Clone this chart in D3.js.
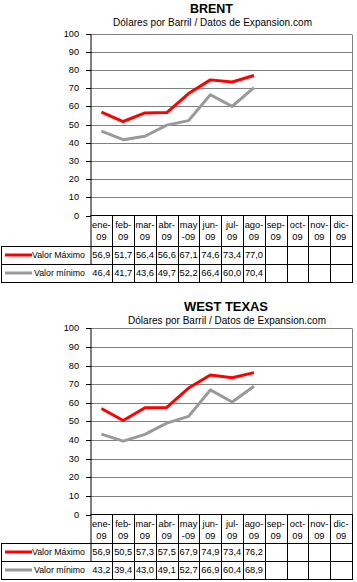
<!DOCTYPE html>
<html><head><meta charset="utf-8">
<script src="https://cdn.jsdelivr.net/npm/d3@7"></script>
<style>
html,body{margin:0;padding:0;background:#fff;}
svg{display:block;font-family:"Liberation Sans",Arial,sans-serif;}
</style></head>
<body>
<svg id="c" width="357" height="582"></svg>
<script>
const categories = ["ene-\n09","feb-\n09","mar-\n09","abr-\n09","may\n-09","jun-\n09","jul-\n09","ago-\n09","sep-\n09","oct-\n09","nov-\n09","dic-\n09"];
const yTicks = [0,10,20,30,40,50,60,70,80,90,100];
const seriesNames = ["Valor Máximo","Valor mínimo"];
const seriesColors = ["#ff0000","#999999"];
const brentMax = [56.9,51.7,56.4,56.6,67.1,74.6,73.4,77.0];
const brentMin = [46.4,41.7,43.6,49.7,52.2,66.4,60.0,70.4];
const wtiMax = [56.9,50.5,57.3,57.5,67.9,74.9,73.4,76.2];
const wtiMin = [43.2,39.4,43.0,49.1,52.7,66.9,60.4,68.9];
const subtitle = "Dólares por Barril / Datos de Expansion.com";

const svg = d3.select("#c");
const fmt = v => v.toFixed(1).replace(".", ",");

function drawChart(o) {
  const g = svg.append("g");
  const x = d3.scaleBand().domain(d3.range(categories.length)).range([o.left, o.right]);
  const y = d3.scaleLinear().domain([0,100]).range([o.bottom, o.top]);

  g.append("text").attr("x", o.titleX).attr("y", o.titleY).attr("text-anchor","middle")
    .attr("font-size", 13).attr("font-weight","bold").attr("textLength", o.titleW)
    .attr("lengthAdjust","spacingAndGlyphs").text(o.title);
  g.append("text").attr("x", o.subX).attr("y", o.subY).attr("text-anchor","middle")
    .attr("font-size", 10).attr("textLength", o.subW).attr("lengthAdjust","spacing").text(subtitle);

  g.selectAll(".grid").data(yTicks.filter(t => t > 0)).join("line")
    .attr("x1", o.left).attr("x2", o.right)
    .attr("y1", d => Math.round(y(d)) + 0.5).attr("y2", d => Math.round(y(d)) + 0.5)
    .attr("stroke", "#808080").attr("stroke-width", 1);
  g.append("line").attr("x1", o.right + 0.5).attr("x2", o.right + 0.5)
    .attr("y1", Math.round(y(100)) + 0.5).attr("y2", o.bottom).attr("stroke","#808080");

  const ax = d3.axisLeft(y).tickValues(yTicks).tickSize(5).tickPadding(7);
  const axg = g.append("g").attr("transform", `translate(${o.left + 0.5},0)`).call(ax);
  axg.select(".domain").remove();
  axg.selectAll(".tick line").attr("stroke", "#000");
  axg.selectAll(".tick text").attr("font-size", 9.2).attr("font-family", "Liberation Sans, Arial, sans-serif").attr("fill","#000");
  axg.selectAll(".tick").attr("transform", d => `translate(0,${Math.round(y(d)) + 0.5})`);
  g.append("line").attr("x1", o.left + 0.5).attr("x2", o.left + 0.5)
    .attr("y1", Math.round(y(100))).attr("y2", o.tableRows[2]).attr("stroke", "#000");

  const rows = o.tableRows;
  g.append("line").attr("x1", o.left).attr("x2", o.right + 1)
    .attr("y1", rows[0] + 0.5).attr("y2", rows[0] + 0.5).attr("stroke","#000");
  [rows[1], rows[2], rows[3]].forEach(yy => {
    g.append("line").attr("x1", 1).attr("x2", o.right + 1)
      .attr("y1", yy + 0.5).attr("y2", yy + 0.5).attr("stroke","#000");
  });
  const xs = categories.map((c,i) => x(i)).concat([o.right]);
  xs.forEach((xx, i) => {
    if (i === 0) return;
    g.append("line").attr("x1", Math.round(xx) + 0.5).attr("x2", Math.round(xx) + 0.5)
      .attr("y1", rows[0]).attr("y2", rows[3]).attr("stroke","#000");
  });
  g.append("line").attr("x1", 1.5).attr("x2", 1.5).attr("y1", rows[1]).attr("y2", rows[3]).attr("stroke","#000");

  categories.forEach((c, i) => {
    const parts = c.split("\n");
    const cx = x(i) + x.bandwidth() / 2;
    g.append("text").attr("x", cx).attr("y", rows[0] + 12.5).attr("text-anchor","middle")
      .attr("font-size", 9.3).text(parts[0]);
    g.append("text").attr("x", cx).attr("y", rows[0] + 24.5).attr("text-anchor","middle")
      .attr("font-size", 9.3).text(parts[1]);
  });

  const legendW = [53, 51];
  const series = [o.max, o.min];
  series.forEach((vals, si) => {
    const top = rows[1 + si], bot = rows[2 + si];
    const cy = (top + bot) / 2;
    g.append("line").attr("x1", 5).attr("x2", 32).attr("y1", cy).attr("y2", cy)
      .attr("stroke", seriesColors[si]).attr("stroke-width", 3);
    g.append("text").attr("x", 85).attr("y", cy + 3.3).attr("text-anchor","end")
      .attr("font-size", 9.3).attr("textLength", legendW[si]).attr("lengthAdjust","spacingAndGlyphs")
      .text(seriesNames[si]);
    vals.forEach((v, i) => {
      g.append("text").attr("x", x(i) + x.bandwidth() / 2).attr("y", cy + 3.3).attr("text-anchor","middle")
        .attr("font-size", 9.3).text(fmt(v));
    });
  });

  const line = d3.line().x((d,i) => x(i) + x.bandwidth() / 2).y(d => y(d));
  [o.min, o.max].forEach((vals, k) => {
    g.append("path").datum(vals).attr("d", line).attr("fill","none")
      .attr("stroke", k === 0 ? seriesColors[1] : seriesColors[0]).attr("stroke-width", 3)
      .attr("stroke-linejoin","round");
  });
}

drawChart({title:"BRENT", titleX:211.5, titleW:43, titleY:12.5, subX:212.5, subW:199, subY:25.5,
  left:90.5, right:352, top:33.7, bottom:215.5,
  tableRows:[215, 246, 264, 282], max: brentMax, min: brentMin});
drawChart({title:"WEST TEXAS", titleX:226, titleW:84, titleY:311, subX:227, subW:198, subY:323.5,
  left:90.5, right:352, top:328.3, bottom:514.5,
  tableRows:[514, 543, 561, 579], max: wtiMax, min: wtiMin});
</script>
</body></html>
